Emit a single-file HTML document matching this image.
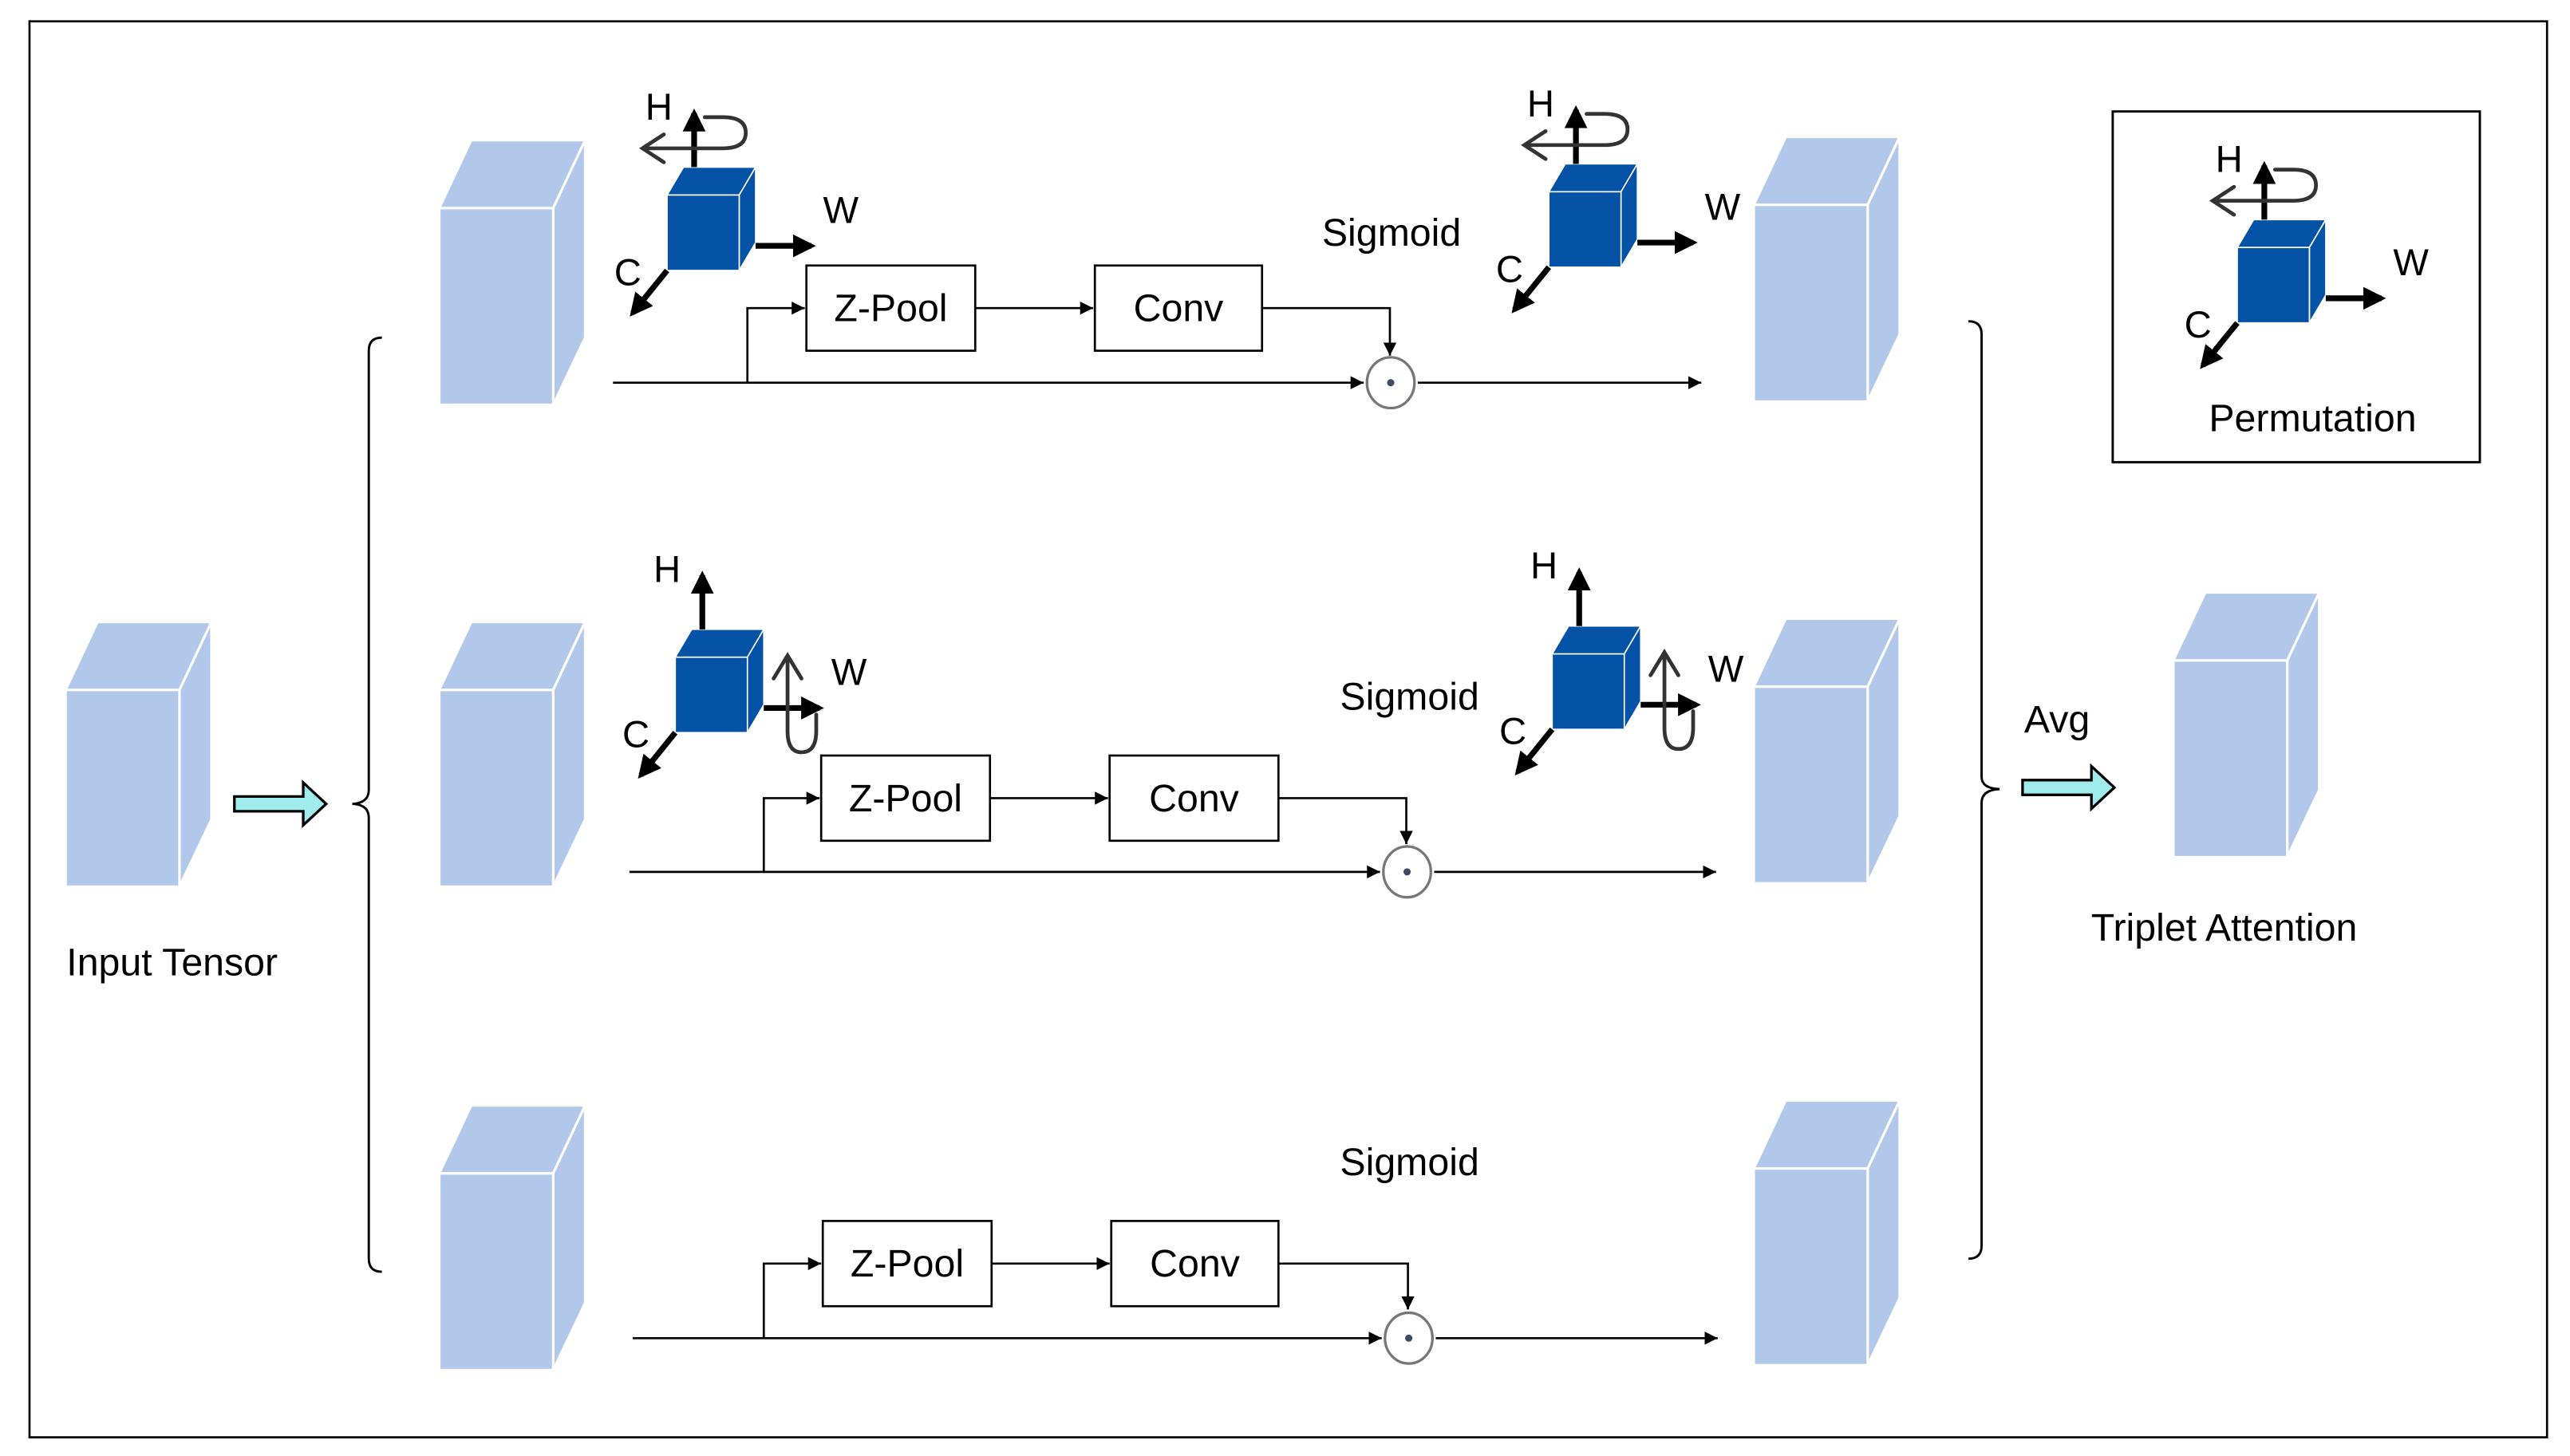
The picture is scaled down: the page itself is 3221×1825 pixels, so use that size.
<!DOCTYPE html>
<html><head><meta charset="utf-8"><style>html,body{margin:0;padding:0;background:#fff}svg{display:block}</style></head>
<body>
<svg width="3221" height="1825" viewBox="0 0 1568 888.4" xmlns="http://www.w3.org/2000/svg" font-family="'Liberation Sans', sans-serif">
<defs>
<marker id="a" viewBox="0 0 10 10" refX="10" refY="5" markerWidth="8" markerHeight="8" markerUnits="userSpaceOnUse" orient="auto"><path d="M0,0L10,5L0,10z" fill="#000"/></marker>
<marker id="b" viewBox="0 0 10 10" refX="8" refY="5" markerWidth="4" markerHeight="4" orient="auto"><path d="M0,0L10,5L0,10z" fill="#000"/></marker>
<g id="t">
<path d="M0,0 L19.5,-41.5 L89,-41.5 L69.5,0Z" fill="#b2c8eb" stroke="#fff" stroke-width="1.5"/>
<path d="M69.5,0 L89,-41.5 L89,79 L69.5,120Z" fill="#b2c8eb" stroke="#fff" stroke-width="1.5"/>
<rect x="0" y="0" width="69.5" height="120" fill="#b2c8eb" stroke="#fff" stroke-width="1.5"/>
</g>
<g id="c">
<path d="M0,0 L10,-17 L54,-17 L44,0Z" fill="#0352a6" stroke="#fff" stroke-width="0.8"/>
<path d="M44,0 L54,-17 L54,29 L44,46Z" fill="#0352a6" stroke="#fff" stroke-width="0.8"/>
<rect x="0" y="0" width="44" height="46" fill="#0352a6" stroke="#fff" stroke-width="0.8"/>
<line x1="16.5" y1="-17" x2="16.5" y2="-50" stroke="#000" stroke-width="3.5" marker-end="url(#b)"/>
<line x1="54" y1="31" x2="88" y2="31" stroke="#000" stroke-width="3.5" marker-end="url(#b)"/>
<line x1="0" y1="46" x2="-21" y2="72" stroke="#000" stroke-width="3.5" marker-end="url(#b)"/>
<text x="-5" y="-46" font-size="23" text-anchor="middle">H</text>
<text x="106" y="17" font-size="23" text-anchor="middle">W</text>
<text x="-24" y="55" font-size="23" text-anchor="middle">C</text>
</g>
<path id="rh" d="M23,-47.5 L34,-47.5 Q48,-47.5 48,-38 Q48,-28.5 34,-28.5 L-15,-28.5 M-2,-37 L-15,-28.5 L-2,-20" fill="none" stroke="#333" stroke-width="2.3" stroke-linecap="round"/>
<path id="rw" d="M68.5,-1 L68.5,45 Q68.5,58 77,58 Q86,58 86,45 L86,35 M60,13 L68.5,-1 L77,13" fill="none" stroke="#333" stroke-width="2.3" stroke-linecap="round"/>
<path id="fa" d="M0,-4.5 L42,-4.5 L42,-13 L56,0 L42,13 L42,4.5 L0,4.5Z" fill="#a0ecec" stroke="#000" stroke-width="1.6"/>
</defs>
<rect x="18" y="13" width="1536" height="864" fill="none" stroke="#000" stroke-width="1.3"/>
<use href="#t" x="40" y="421"/>
<use href="#t" x="268" y="127"/><use href="#t" x="268" y="421"/><use href="#t" x="268" y="716"/>
<use href="#t" x="1070" y="125"/><use href="#t" x="1070" y="419"/><use href="#t" x="1070" y="713"/>
<use href="#t" x="1326" y="403"/>
<use href="#fa" x="143" y="490.5"/><use href="#fa" x="1234" y="480.5"/>
<path d="M233,206 Q225,206 225,214 L225,482 Q225,490 215,490.5 Q225,491 225,499 L225,768 Q225,776 233,776" fill="none" stroke="#000" stroke-width="1.4"/>
<path d="M1201,196 Q1209,196 1209,204 L1209,474 Q1209,481 1220,481.5 Q1209,482 1209,490 L1209,760 Q1209,768 1201,768" fill="none" stroke="#000" stroke-width="1.4"/>
<use href="#c" x="407" y="119"/><use href="#rh" x="407" y="119"/>
<use href="#c" x="945" y="117"/><use href="#rh" x="945" y="117"/>
<use href="#c" x="412" y="401"/><use href="#rw" x="412" y="401"/>
<use href="#c" x="947" y="399"/><use href="#rw" x="947" y="399"/>
<rect x="1289" y="68" width="224" height="214" fill="none" stroke="#000" stroke-width="1.4"/>
<use href="#c" x="1365" y="151"/><use href="#rh" x="1365" y="151"/>
<g fill="none" stroke="#000" stroke-width="1.3">
<rect x="492" y="162" width="103" height="52"/><rect x="668" y="162" width="102" height="52"/>
<rect x="501" y="461" width="103" height="52"/><rect x="677" y="461" width="103" height="52"/>
<rect x="502" y="745" width="103" height="52"/><rect x="678" y="745" width="102" height="52"/>
<line x1="374" y1="233.5" x2="832" y2="233.5" marker-end="url(#a)"/>
<line x1="865" y1="233.5" x2="1038" y2="233.5" marker-end="url(#a)"/>
<polyline points="456,233.5 456,188 491,188" marker-end="url(#a)"/>
<line x1="595" y1="188" x2="667" y2="188" marker-end="url(#a)"/>
<polyline points="770,188 848,188 848,217" marker-end="url(#a)"/>
<line x1="384" y1="532" x2="842" y2="532" marker-end="url(#a)"/>
<line x1="875" y1="532" x2="1047" y2="532" marker-end="url(#a)"/>
<polyline points="466,532 466,487 500,487" marker-end="url(#a)"/>
<line x1="604" y1="487" x2="676" y2="487" marker-end="url(#a)"/>
<polyline points="780,487 858,487 858,515" marker-end="url(#a)"/>
<line x1="386" y1="816.5" x2="843" y2="816.5" marker-end="url(#a)"/>
<line x1="876" y1="816.5" x2="1048" y2="816.5" marker-end="url(#a)"/>
<polyline points="466,816.5 466,771 501,771" marker-end="url(#a)"/>
<line x1="605" y1="771" x2="677" y2="771" marker-end="url(#a)"/>
<polyline points="780,771 859,771 859,799" marker-end="url(#a)"/>
</g>
<g fill="none" stroke="#777" stroke-width="1.6">
<ellipse cx="848.5" cy="233.5" rx="14.5" ry="15.5"/><ellipse cx="858.5" cy="532" rx="14.5" ry="15.5"/><ellipse cx="859.5" cy="816.5" rx="14.5" ry="15.5"/>
</g>
<g fill="#3d4c63"><circle cx="848.5" cy="233.5" r="2.2"/><circle cx="858.5" cy="532" r="2.2"/><circle cx="859.5" cy="816.5" r="2.2"/></g>
<g font-size="23.5" text-anchor="middle" fill="#000">
<text x="543.5" y="196">Z-Pool</text><text x="719" y="196">Conv</text>
<text x="552.5" y="495">Z-Pool</text><text x="728.5" y="495">Conv</text>
<text x="553.5" y="779">Z-Pool</text><text x="729" y="779">Conv</text>
<text x="849" y="150">Sigmoid</text><text x="860" y="433">Sigmoid</text><text x="860" y="717">Sigmoid</text>
<text x="105" y="595">Input Tensor</text>
<text x="1255" y="447">Avg</text>
<text x="1357" y="574">Triplet Attention</text>
<text x="1411" y="263">Permutation</text>
</g>
</svg>
</body></html>
